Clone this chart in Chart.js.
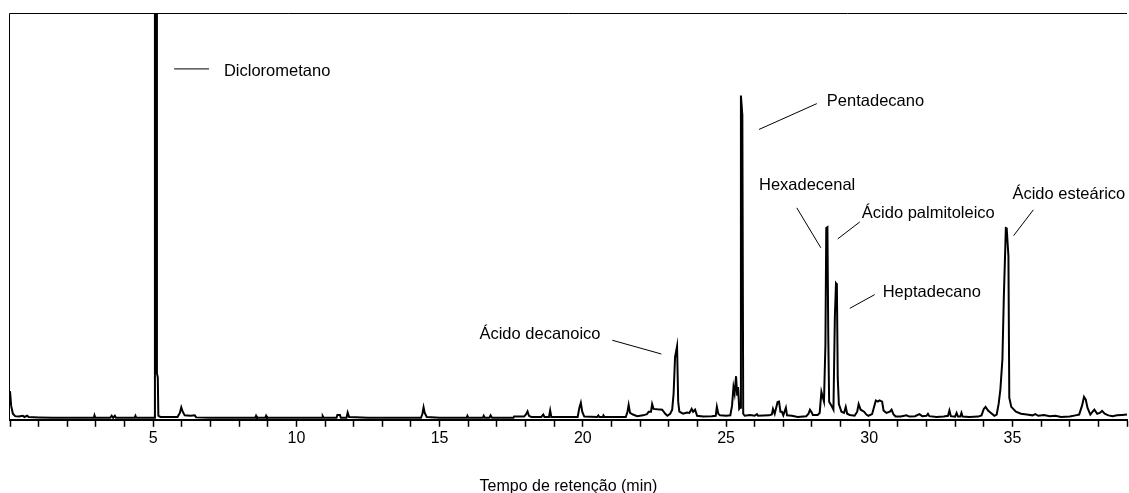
<!DOCTYPE html>
<html lang="pt">
<head>
<meta charset="utf-8">
<title>Cromatograma</title>
<script src="https://cdn.jsdelivr.net/npm/chart.js@4.4.1/dist/chart.umd.min.js"></script>
<style>
  html, body { margin: 0; padding: 0; background: #fff; }
</style>
</head>
<body>
<canvas id="chrom" width="1129" height="493"></canvas>
<script>
// ==========================
//  Cromatograma — GC trace
// ==========================

// ── DATA ────────────────────────────────────────────────
const retentionTime = [
  0.00, 0.04, 0.10, 0.18, 0.30, 0.45, 0.50, 0.60, 0.65, 1.00, 1.50, 2.00, 2.50, 2.93, 2.95, 2.98,
  3.50, 3.55, 3.60, 3.66, 3.70, 4.35, 4.38, 4.41, 5.03, 5.06, 5.12, 5.13, 5.16, 5.18, 5.25,
  5.85, 5.93, 5.98, 6.03, 6.10, 6.30, 6.45, 6.50, 7.00, 7.50, 8.00, 8.56, 8.59, 8.62, 8.91, 8.94, 8.97,
  9.50, 10.00, 10.90, 10.92, 10.95, 11.40, 11.43, 11.52, 11.55, 11.75, 11.79, 11.84,
  12.50, 13.00, 13.50, 14.35, 14.40, 14.44, 14.48, 14.55, 15.00, 15.94, 15.97, 16.00,
  16.51, 16.54, 16.58, 16.74, 16.78, 16.83, 17.58, 17.60, 17.95, 18.02, 18.07, 18.12, 18.20,
  18.55, 18.62, 18.66, 18.82, 18.86, 18.90, 19.00, 19.50, 19.82, 19.88, 19.93, 19.98, 20.05,
  20.50, 20.54, 20.58, 20.70, 20.72, 20.76, 21.50, 21.56, 21.60, 21.65, 21.75, 21.90,
  22.10, 22.24, 22.30, 22.38, 22.42, 22.47, 22.60, 22.77, 22.88, 22.95, 23.05, 23.12, 23.17,
  23.22, 23.29, 23.33, 23.37, 23.50, 23.64, 23.72, 23.80, 23.85, 23.92, 23.99, 24.20, 24.50,
  24.64, 24.68, 24.73, 24.79, 25.00, 25.15, 25.21, 25.26, 25.30, 25.35, 25.39, 25.42, 25.46,
  25.49, 25.52, 25.57, 25.60, 25.65, 25.84, 26.00, 26.08, 26.12, 26.50, 26.60, 26.64, 26.70,
  26.80, 26.85, 26.90, 26.95, 27.00, 27.09, 27.13, 27.30, 27.50, 27.80, 27.88, 27.93, 28.00,
  28.03, 28.20, 28.27, 28.33, 28.38, 28.42, 28.47, 28.50, 28.54, 28.57, 28.60, 28.68, 28.75,
  28.80, 28.84, 28.87, 28.90, 28.94, 29.03, 29.12, 29.18, 29.23, 29.32, 29.49, 29.58, 29.63,
  29.70, 29.82, 29.90, 29.97, 30.10, 30.18, 30.23, 30.30, 30.36, 30.45, 30.50, 30.60, 30.72,
  30.78, 30.85, 30.92, 31.10, 31.30, 31.40, 31.60, 31.75, 31.85, 32.00, 32.05, 32.10, 32.35,
  32.60, 32.75, 32.80, 32.85, 33.00, 33.05, 33.10, 33.18, 33.22, 33.26, 33.50, 33.80, 33.92,
  34.00, 34.06, 34.15, 34.25, 34.37, 34.45, 34.52, 34.58, 34.65, 34.70, 34.74, 34.77, 34.80,
  34.86, 34.89, 34.96, 35.12, 35.30, 35.50, 35.70, 35.80, 35.90, 36.10, 36.30, 36.50, 36.70,
  37.00, 37.20, 37.33, 37.43, 37.50, 37.56, 37.62, 37.72, 37.80, 37.86, 37.96, 38.05, 38.13,
  38.22, 38.35, 38.50, 38.65, 38.83, 39.00
];

const intensity = [
  6.6, 3.0, 1.0, 0.4, 0.3, 0.5, 0.2, 0.5, 0.2, 0.1, 0.0, 0.0, 0.0, 0.0, 0.6, 0.0,
  0.0, 0.5, 0.0, 0.5, 0.0, 0.0, 0.5, 0.0, 0.0, 130, 130, 11, 10, 0.5, 0.2,
  0.2, 1.2, 2.6, 1.5, 0.6, 0.5, 0.6, 0.1, 0.0, 0.0, 0.0, 0.0, 0.5, 0.0, 0.0, 0.5, 0.0,
  0.0, 0.0, 0.0, 0.4, 0.0, 0.0, 0.7, 0.7, 0.0, 0.0, 1.3, 0.2,
  0.0, 0.0, 0.0, 0.0, 1.0, 2.6, 1.2, 0.2, 0.0, 0.0, 0.5, 0.0,
  0.0, 0.5, 0.0, 0.0, 0.6, 0.0, 0.0, 0.3, 0.3, 0.9, 1.6, 0.5, 0.2,
  0.2, 0.8, 0.2, 0.2, 1.8, 0.2, 0.2, 0.2, 0.2, 2.5, 3.7, 1.5, 0.3,
  0.2, 0.6, 0.2, 0.2, 0.6, 0.2, 0.2, 1.5, 3.2, 1.2, 0.8, 0.4,
  0.6, 0.9, 1.5, 1.5, 3.4, 2.2, 2.1, 2.0, 1.0, 0.5, 1.0, 2.0, 6.0,
  15.0, 17.7, 4.0, 1.5, 1.0, 1.3, 1.2, 2.2, 1.5, 2.0, 0.5, 0.3, 0.4,
  0.5, 2.7, 1.0, 0.6, 0.5, 0.6, 3.0, 7.6, 6.0, 10.3, 5.5, 7.6, 2.2,
  2.5, 79.8, 75.0, 1.0, 0.5, 0.7, 0.5, 0.9, 0.5, 0.6, 0.8, 2.2, 1.0,
  3.9, 4.0, 1.5, 1.5, 0.6, 2.5, 0.6, 0.5, 0.2, 0.4, 1.0, 2.0, 1.2,
  0.7, 0.7, 1.2, 6.4, 5.0, 4.0, 18.0, 47.0, 47.2, 20.0, 4.0, 3.0, 2.0,
  25.0, 33.3, 33.0, 10.0, 3.4, 1.5, 1.2, 2.7, 1.0, 0.7, 0.5, 1.5, 3.4,
  2.0, 1.5, 0.8, 0.5, 0.9, 3.0, 4.3, 4.0, 4.3, 4.0, 1.8, 1.2, 1.5,
  2.0, 0.8, 0.3, 0.3, 0.6, 0.3, 0.4, 0.9, 0.4, 0.5, 1.0, 0.4, 0.2,
  0.3, 0.5, 1.8, 0.4, 0.3, 1.2, 0.3, 0.3, 1.2, 0.3, 0.2, 0.3, 0.6,
  2.2, 2.7, 1.8, 1.2, 0.5, 0.8, 3.5, 7.1, 14.5, 30.0, 39.6, 47.0, 46.9,
  40.0, 5.0, 2.7, 1.5, 1.0, 0.8, 0.6, 0.9, 0.5, 0.7, 0.4, 0.5, 0.2,
  0.3, 0.6, 0.8, 3.0, 5.2, 4.5, 2.5, 0.8, 1.5, 2.0, 1.0, 1.2, 1.7,
  1.0, 0.6, 0.4, 0.6, 0.7, 0.8
];

const xTickLabels = [5, 10, 15, 20, 25, 30, 35];

const peakNames = [
  'Diclorometano', 'Pentadecano', 'Hexadecenal', 'Ácido palmitoleico',
  'Heptadecano', 'Ácido esteárico', 'Ácido decanoico'
];

// ── LABEL LAYOUT (axis units: min, intensity) ───────────
const labelLayout = [
  { text: [7.47, 84.7],  line: [5.73, 86.4, 6.95, 86.4] },
  { text: [28.52, 77.1], line: [26.15, 71.4, 28.17, 77.8] },
  { text: [26.15, 56.4], line: [27.47, 52.0, 28.31, 42.1] },
  { text: [29.74, 49.5], line: [28.90, 44.3, 29.67, 48.5] },
  { text: [30.47, 30.0], line: [29.32, 27.1, 30.19, 30.5] },
  { text: [35.00, 54.2], line: [35.04, 45.1, 35.73, 51.5] },
  { text: [16.39, 19.5], line: [21.03, 19.2, 22.74, 15.8] }
];

const FONT = '"Liberation Sans", Arial, sans-serif';

// ── FRAME + PEAK LABELS ─────────────────────────────────
const chromDecor = {
  id: 'chromDecor',
  afterDatasetsDraw(chart) {
    const { ctx, chartArea: a, scales: { x, y } } = chart;
    ctx.save();
    ctx.strokeStyle = '#000';
    ctx.lineWidth = 1;
    ctx.beginPath();
    ctx.moveTo(a.left - 0.5, a.bottom);
    ctx.lineTo(a.left - 0.5, a.top - 0.5);
    ctx.lineTo(a.right, a.top - 0.5);
    ctx.stroke();

    ctx.font = '16.5px ' + FONT;
    ctx.fillStyle = '#000';
    ctx.textBaseline = 'alphabetic';
    ctx.textAlign = 'left';
    peakNames.forEach((name, i) => {
      const L = labelLayout[i];
      ctx.beginPath();
      ctx.moveTo(x.getPixelForValue(L.line[0]), y.getPixelForValue(L.line[1]));
      ctx.lineTo(x.getPixelForValue(L.line[2]), y.getPixelForValue(L.line[3]));
      ctx.stroke();
      ctx.fillText(name, x.getPixelForValue(L.text[0]), y.getPixelForValue(L.text[1]));
    });
    ctx.restore();
  }
};

// ── CHART ───────────────────────────────────────────────
new Chart(document.getElementById('chrom').getContext('2d'), {
  type: 'line',
  data: {
    datasets: [{
      data: retentionTime.map((t, i) => ({ x: t, y: intensity[i] })),
      borderColor: '#000',
      borderWidth: 2,
      pointRadius: 0,
      tension: 0,
      fill: false
    }]
  },
  options: {
    responsive: false,
    animation: false,
    layout: { padding: { left: 10, top: 14, right: 0, bottom: 0 } },
    plugins: { legend: { display: false }, tooltip: { enabled: false } },
    scales: {
      x: {
        type: 'linear',
        min: 0,
        max: 39,
        grid: { display: true, drawOnChartArea: false, drawTicks: true, tickLength: 7, tickWidth: 1.5, color: '#000' },
        border: { display: true, color: '#000', width: 2 },
        ticks: {
          stepSize: 1,
          autoSkip: false,
          maxRotation: 0,
          padding: 2,
          color: '#000',
          font: { family: FONT, size: 16 },
          callback: v => (xTickLabels.includes(v) ? String(v) : '')
        },
        title: {
          display: true,
          text: 'Tempo de retenção (min)',
          color: '#000',
          font: { family: FONT, size: 16, lineHeight: 1 },
          padding: { top: 29, bottom: -2 }
        }
      },
      y: {
        display: false,
        min: -0.5,
        max: 100
      }
    }
  },
  plugins: [chromDecor]
});
</script>
</body>
</html>
